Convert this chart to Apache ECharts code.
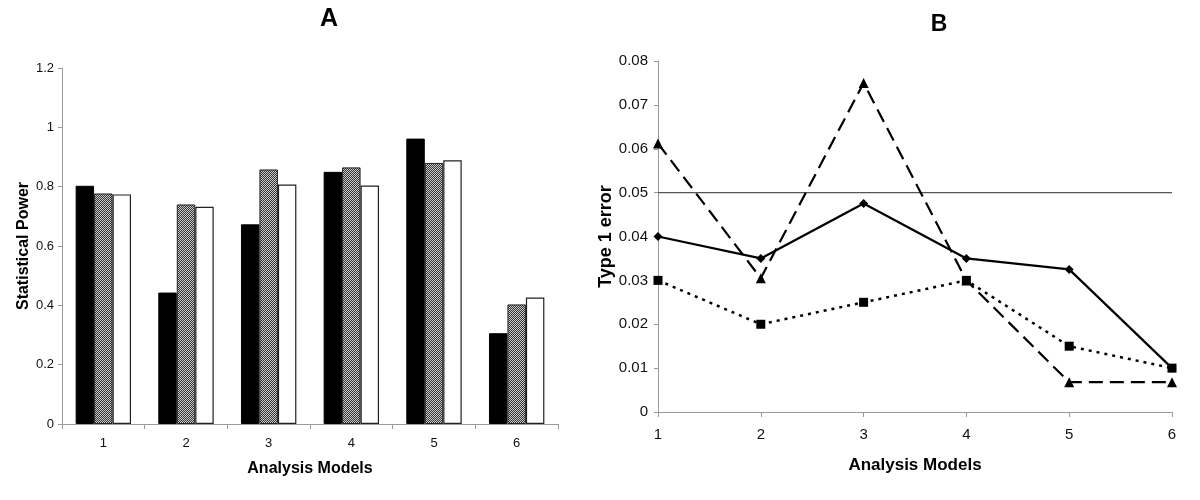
<!DOCTYPE html>
<html>
<head>
<meta charset="utf-8">
<script src="https://cdn.jsdelivr.net/npm/echarts@6/dist/echarts.min.js"></script>
<style>html,body{margin:0;padding:0;background:#fff}#c{width:1200px;height:500px}</style>
</head>
<body>
<div id="c"></div>
<script>
// ---- Data ----
const categories = ['1', '2', '3', '4', '5', '6'];
// Panel A: statistical power (three bar series)
const powerBlack = [0.803, 0.443, 0.673, 0.850, 0.962, 0.306];
const powerGray  = [0.777, 0.740, 0.858, 0.865, 0.880, 0.403];
const powerWhite = [0.774, 0.732, 0.807, 0.804, 0.889, 0.426];
// Panel B: type 1 error (three line series + threshold)
const errSolid   = [0.040, 0.035, 0.0475, 0.035, 0.0325, 0.010];
const errDotted  = [0.030, 0.020, 0.025, 0.030, 0.015, 0.010];
const errDashed  = [0.0612, 0.0305, 0.075, 0.030, 0.0068, 0.0068];
const threshold  = [0.05, 0.05, 0.05, 0.05, 0.05, 0.05];

// ---- Styles ----
const SANS = "'Liberation Sans',Arial,sans-serif";

const pc = document.createElement('canvas');
pc.width = 4; pc.height = 4;
const pctx = pc.getContext('2d');
for (let i = 0; i < 4; i++) for (let j = 0; j < 4; j++) {
  pctx.fillStyle = ((i + j) % 2) ? '#333333' : '#cccccc';
  pctx.fillRect(i, j, 1, 1);
}
const hatch = { image: pc, repeat: 'repeat' };

const axisGray = '#9a9a9a';
const chart = echarts.init(document.getElementById('c'), null, { renderer: 'canvas' });

chart.setOption({
  animation: false,
  backgroundColor: '#fff',
  title: [
    { text: 'A', left: 329, top: 7, textAlign: 'center', padding: 0,
      textStyle: { fontFamily: SANS, fontSize: 25, fontWeight: 'bold', color: '#000' } },
    { text: 'B', left: 939, top: 13, textAlign: 'center', padding: 0,
      textStyle: { fontFamily: SANS, fontSize: 23, fontWeight: 'bold', color: '#000' } }
  ],
  grid: [
    { left: 62, top: 68, width: 496, height: 356 },
    { left: 658, top: 61, width: 514, height: 351 }
  ],
  xAxis: [
    { type: 'category', gridIndex: 0, data: categories, boundaryGap: true,
      name: 'Analysis Models', nameLocation: 'middle', nameGap: 37,
      nameTextStyle: { fontFamily: SANS, fontSize: 16, fontWeight: 'bold', color: '#000' },
      axisLine: { lineStyle: { color: axisGray, width: 1 } },
      axisTick: { show: true, length: 5, lineStyle: { color: axisGray } },
      axisLabel: { fontFamily: SANS, fontSize: 13, color: '#111', margin: 13 },
      splitLine: { show: false } },
    { type: 'category', gridIndex: 1, data: categories, boundaryGap: false,
      name: 'Analysis Models', nameLocation: 'middle', nameGap: 45,
      nameTextStyle: { fontFamily: SANS, fontSize: 17, fontWeight: 'bold', color: '#000' },
      axisLine: { lineStyle: { color: axisGray, width: 1 } },
      axisTick: { show: true, length: 5, lineStyle: { color: axisGray } },
      axisLabel: { fontFamily: SANS, fontSize: 15, color: '#111', margin: 15 },
      splitLine: { show: false } }
  ],
  yAxis: [
    { type: 'value', gridIndex: 0, min: 0, max: 1.2, interval: 0.2,
      name: 'Statistical Power', nameLocation: 'middle', nameGap: 30, nameRotate: 90,
      nameTextStyle: { fontFamily: SANS, fontSize: 16, fontWeight: 'bold', color: '#000' },
      axisLine: { show: true, lineStyle: { color: axisGray, width: 1 } },
      axisTick: { show: true, length: 4, lineStyle: { color: axisGray } },
      axisLabel: { fontFamily: SANS, fontSize: 13, color: '#111', margin: 8 },
      splitLine: { show: false } },
    { type: 'value', gridIndex: 1, min: 0, max: 0.08, interval: 0.01,
      name: 'Type 1 error', nameLocation: 'middle', nameGap: 32, nameRotate: 90,
      nameTextStyle: { fontFamily: SANS, fontSize: 18, fontWeight: 'bold', color: '#000' },
      axisLine: { show: true, lineStyle: { color: axisGray, width: 1 } },
      axisTick: { show: true, length: 4, lineStyle: { color: axisGray } },
      axisLabel: { fontFamily: SANS, fontSize: 15, color: '#111', margin: 10 },
      splitLine: { show: false } }
  ],
  series: [
    { type: 'bar', xAxisIndex: 0, yAxisIndex: 0, data: powerBlack,
      barGap: '0%', barCategoryGap: '33%',
      itemStyle: { color: '#000', borderColor: '#000', borderWidth: 1 } },
    { type: 'bar', xAxisIndex: 0, yAxisIndex: 0, data: powerGray,
      itemStyle: { color: hatch, borderColor: '#222', borderWidth: 1 } },
    { type: 'bar', xAxisIndex: 0, yAxisIndex: 0, data: powerWhite,
      itemStyle: { color: '#fff', borderColor: '#222', borderWidth: 1.2 } },

    { type: 'line', xAxisIndex: 1, yAxisIndex: 1, data: threshold,
      symbol: 'none', lineStyle: { color: '#555', width: 1.2 }, z: 1 },
    { type: 'line', xAxisIndex: 1, yAxisIndex: 1, data: errDashed,
      symbol: 'triangle', symbolSize: 10,
      itemStyle: { color: '#000' },
      lineStyle: { color: '#000', width: 2.2, type: [14, 7] }, z: 2 },
    { type: 'line', xAxisIndex: 1, yAxisIndex: 1, data: errSolid,
      symbol: 'diamond', symbolSize: 9,
      itemStyle: { color: '#000' },
      lineStyle: { color: '#000', width: 2.2 }, z: 3 },
    { type: 'line', xAxisIndex: 1, yAxisIndex: 1, data: errDotted,
      symbol: 'rect', symbolSize: 9,
      itemStyle: { color: '#000' },
      lineStyle: { color: '#000', width: 2.5, type: [3, 5] }, z: 4 }
  ]
});
</script>
</body>
</html>
